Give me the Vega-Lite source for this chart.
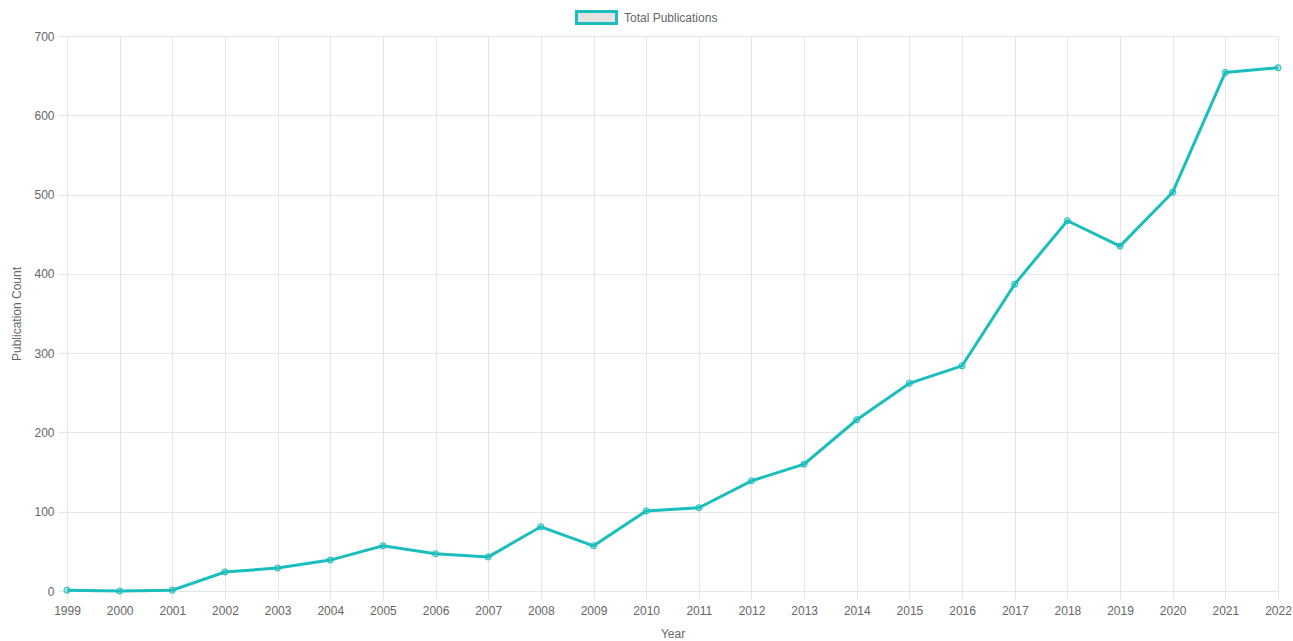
{
  "$schema": "https://vega.github.io/schema/vega-lite/v6.json",
  "width": 1211,
  "height": 555,
  "autosize": {"type": "none"},
  "padding": {"left": 67, "top": 36, "right": 15, "bottom": 50},
  "background": "white",
  "config": {
    "view": {"stroke": null},
    "font": "Liberation Sans",
    "axis": {
      "gridColor": "#e5e5e5",
      "tickColor": "#e5e5e5",
      "domainColor": "#e5e5e5",
      "labelColor": "#666666",
      "titleColor": "#666666",
      "labelFontSize": 12,
      "titleFontSize": 12,
      "titleFontWeight": "normal",
      "labelFont": "Liberation Sans",
      "titleFont": "Liberation Sans"
    }
  },
  "data": {
    "values": [
      {"year": 1999, "count": 1, "series": "Total Publications"},
      {"year": 2000, "count": 0, "series": "Total Publications"},
      {"year": 2001, "count": 1, "series": "Total Publications"},
      {"year": 2002, "count": 24, "series": "Total Publications"},
      {"year": 2003, "count": 29, "series": "Total Publications"},
      {"year": 2004, "count": 39, "series": "Total Publications"},
      {"year": 2005, "count": 57, "series": "Total Publications"},
      {"year": 2006, "count": 47, "series": "Total Publications"},
      {"year": 2007, "count": 43, "series": "Total Publications"},
      {"year": 2008, "count": 81, "series": "Total Publications"},
      {"year": 2009, "count": 57, "series": "Total Publications"},
      {"year": 2010, "count": 101, "series": "Total Publications"},
      {"year": 2011, "count": 105, "series": "Total Publications"},
      {"year": 2012, "count": 139, "series": "Total Publications"},
      {"year": 2013, "count": 160, "series": "Total Publications"},
      {"year": 2014, "count": 216, "series": "Total Publications"},
      {"year": 2015, "count": 262, "series": "Total Publications"},
      {"year": 2016, "count": 284, "series": "Total Publications"},
      {"year": 2017, "count": 387, "series": "Total Publications"},
      {"year": 2018, "count": 467, "series": "Total Publications"},
      {"year": 2019, "count": 435, "series": "Total Publications"},
      {"year": 2020, "count": 503, "series": "Total Publications"},
      {"year": 2021, "count": 654, "series": "Total Publications"},
      {"year": 2022, "count": 660, "series": "Total Publications"}
    ]
  },
  "encoding": {
    "x": {
      "field": "year",
      "type": "quantitative",
      "scale": {"domain": [1999, 2022], "nice": false, "zero": false},
      "axis": {
        "title": "Year",
        "values": [1999,2000,2001,2002,2003,2004,2005,2006,2007,2008,2009,2010,2011,2012,2013,2014,2015,2016,2017,2018,2019,2020,2021,2022],
        "format": "d",
        "tickSize": 8,
        "labelPadding": 6,
        "titlePadding": 12,
        "labelOverlap": false,
        "labelFlush": false
      }
    },
    "y": {
      "field": "count",
      "type": "quantitative",
      "scale": {"domain": [0, 700], "nice": false},
      "axis": {
        "title": "Publication Count",
        "values": [0,100,200,300,400,500,600,700],
        "tickSize": 9,
        "labelPadding": 4,
        "titlePadding": 10,
        "labelFlush": false
      }
    }
  },
  "layer": [
    {
      "mark": {"type": "line", "strokeWidth": 3},
      "encoding": {
        "color": {
          "field": "series",
          "type": "nominal",
          "scale": {"range": ["#1cbdbd"]},
          "legend": {
            "title": null,
            "orient": "none",
            "legendX": 508,
            "legendY": -40,
            "padding": 0,
            "symbolType": "M-1,-0.3H1V0.3H-1Z",
            "symbolSize": 1600,
            "symbolFillColor": "#e3e3e3",
            "symbolStrokeWidth": 3,
            "labelFontSize": 12,
            "labelColor": "#666666",
            "labelFont": "Liberation Sans",
            "labelOffset": 6,
            "encode": {
              "symbols": {
                "update": {
                  "fill": {"value": "#e3e3e3"},
                  "stroke": {"value": "#1cbdbd"},
                  "strokeWidth": {"value": 3},
                  "opacity": {"value": 1}
                }
              }
            }
          }
        }
      }
    },
    {
      "mark": {"type": "point", "shape": "circle", "size": 38, "filled": true, "fill": "#1cbdbd", "fillOpacity": 0.35, "stroke": "#1cbdbd", "strokeWidth": 1, "opacity": 1}
    }
  ]
}
